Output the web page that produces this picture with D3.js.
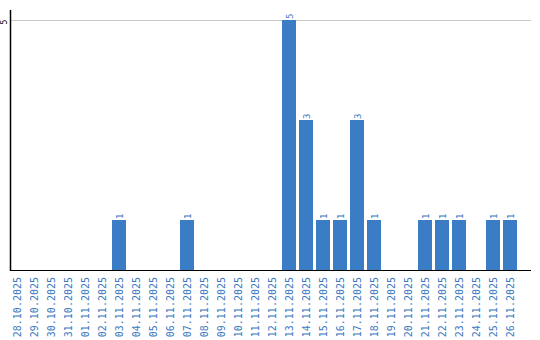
<!DOCTYPE html>
<html>
<head>
<meta charset="utf-8">
<script src="https://cdn.jsdelivr.net/npm/d3@7"></script>
<style>
  body { margin: 0; background: #fff; }
  svg text { font-family: "DejaVu Sans Mono", monospace; }
</style>
</head>
<body>
<div id="graphic"></div>
<script>
const dates = ["28.10.2025","29.10.2025","30.10.2025","31.10.2025","01.11.2025","02.11.2025",
  "03.11.2025","04.11.2025","05.11.2025","06.11.2025","07.11.2025","08.11.2025","09.11.2025",
  "10.11.2025","11.11.2025","12.11.2025","13.11.2025","14.11.2025","15.11.2025","16.11.2025",
  "17.11.2025","18.11.2025","19.11.2025","20.11.2025","21.11.2025","22.11.2025","23.11.2025",
  "24.11.2025","25.11.2025","26.11.2025"];
const counts = [0,0,0,0,0,0,1,0,0,0,1,0,0,0,0,0,5,3,1,1,3,1,0,0,1,1,1,0,1,1];
const yTicks = [5];

const barColor = "#3b7dc4";
const textColor = "#3a78c0";

const width = 540, height = 340;
const margin = { left: 11, right: 531, top: 10, bottom: 270 };

const svg = d3.select("#graphic").append("svg")
  .attr("width", width).attr("height", height);

const x = d3.scaleBand()
  .domain(dates)
  .range([8.5, 518.5])
  .paddingInner(3 / 17)
  .paddingOuter(1.5 / 17);

const y = d3.scaleLinear()
  .domain([0, 5])
  .range([margin.bottom, 20]);

const rows = counts.map((v, i) => ({ date: dates[i], value: v })).filter(d => d.value > 0);

// grid
svg.append("g")
  .selectAll("line")
  .data(yTicks)
  .enter().append("line")
    .attr("x1", margin.left).attr("x2", margin.right)
    .attr("y1", d => Math.round(y(d)) + 0.5)
    .attr("y2", d => Math.round(y(d)) + 0.5)
    .attr("stroke", "#c8c8c8");

// bars
svg.append("g")
  .selectAll("rect")
  .data(rows)
  .enter().append("rect")
    .attr("x", d => x(d.date))
    .attr("width", x.bandwidth())
    .attr("y", d => y(d.value))
    .attr("height", d => y(0) - y(d.value))
    .attr("fill", barColor);

// value labels
svg.append("g")
  .selectAll("text")
  .data(rows)
  .enter().append("text")
    .attr("transform", d => `translate(${x(d.date) + x.bandwidth() / 2 + 3.5}, ${y(d.value) - 1}) rotate(-90)`)
    .attr("text-anchor", "start")
    .attr("font-size", "9px")
    .attr("fill", textColor)
    .text(d => d.value);

// axes lines
svg.append("line")
  .attr("x1", margin.left - 0.5).attr("x2", margin.left - 0.5)
  .attr("y1", margin.top).attr("y2", margin.bottom + 1)
  .attr("stroke", "#000").attr("stroke-width", 1.5);

svg.append("line")
  .attr("x1", margin.left).attr("x2", margin.right)
  .attr("y1", margin.bottom + 0.5).attr("y2", margin.bottom + 0.5)
  .attr("stroke", "#000");

// y tick labels
svg.append("g")
  .selectAll("text")
  .data(yTicks)
  .enter().append("text")
    .attr("transform", d => `translate(7, ${y(d) + 2}) rotate(-90)`)
    .attr("text-anchor", "middle")
    .attr("font-size", "8px")
    .attr("fill", "#000")
    .text(d => d);

// x labels
svg.append("g")
  .selectAll("text")
  .data(dates)
  .enter().append("text")
    .attr("transform", d => `translate(${x(d) + x.bandwidth() / 2 + 3.5}, ${margin.bottom + 7}) rotate(-90)`)
    .attr("text-anchor", "end")
    .attr("font-size", "10px")
    .attr("fill", textColor)
    .text(d => d);
</script>
</body>
</html>
